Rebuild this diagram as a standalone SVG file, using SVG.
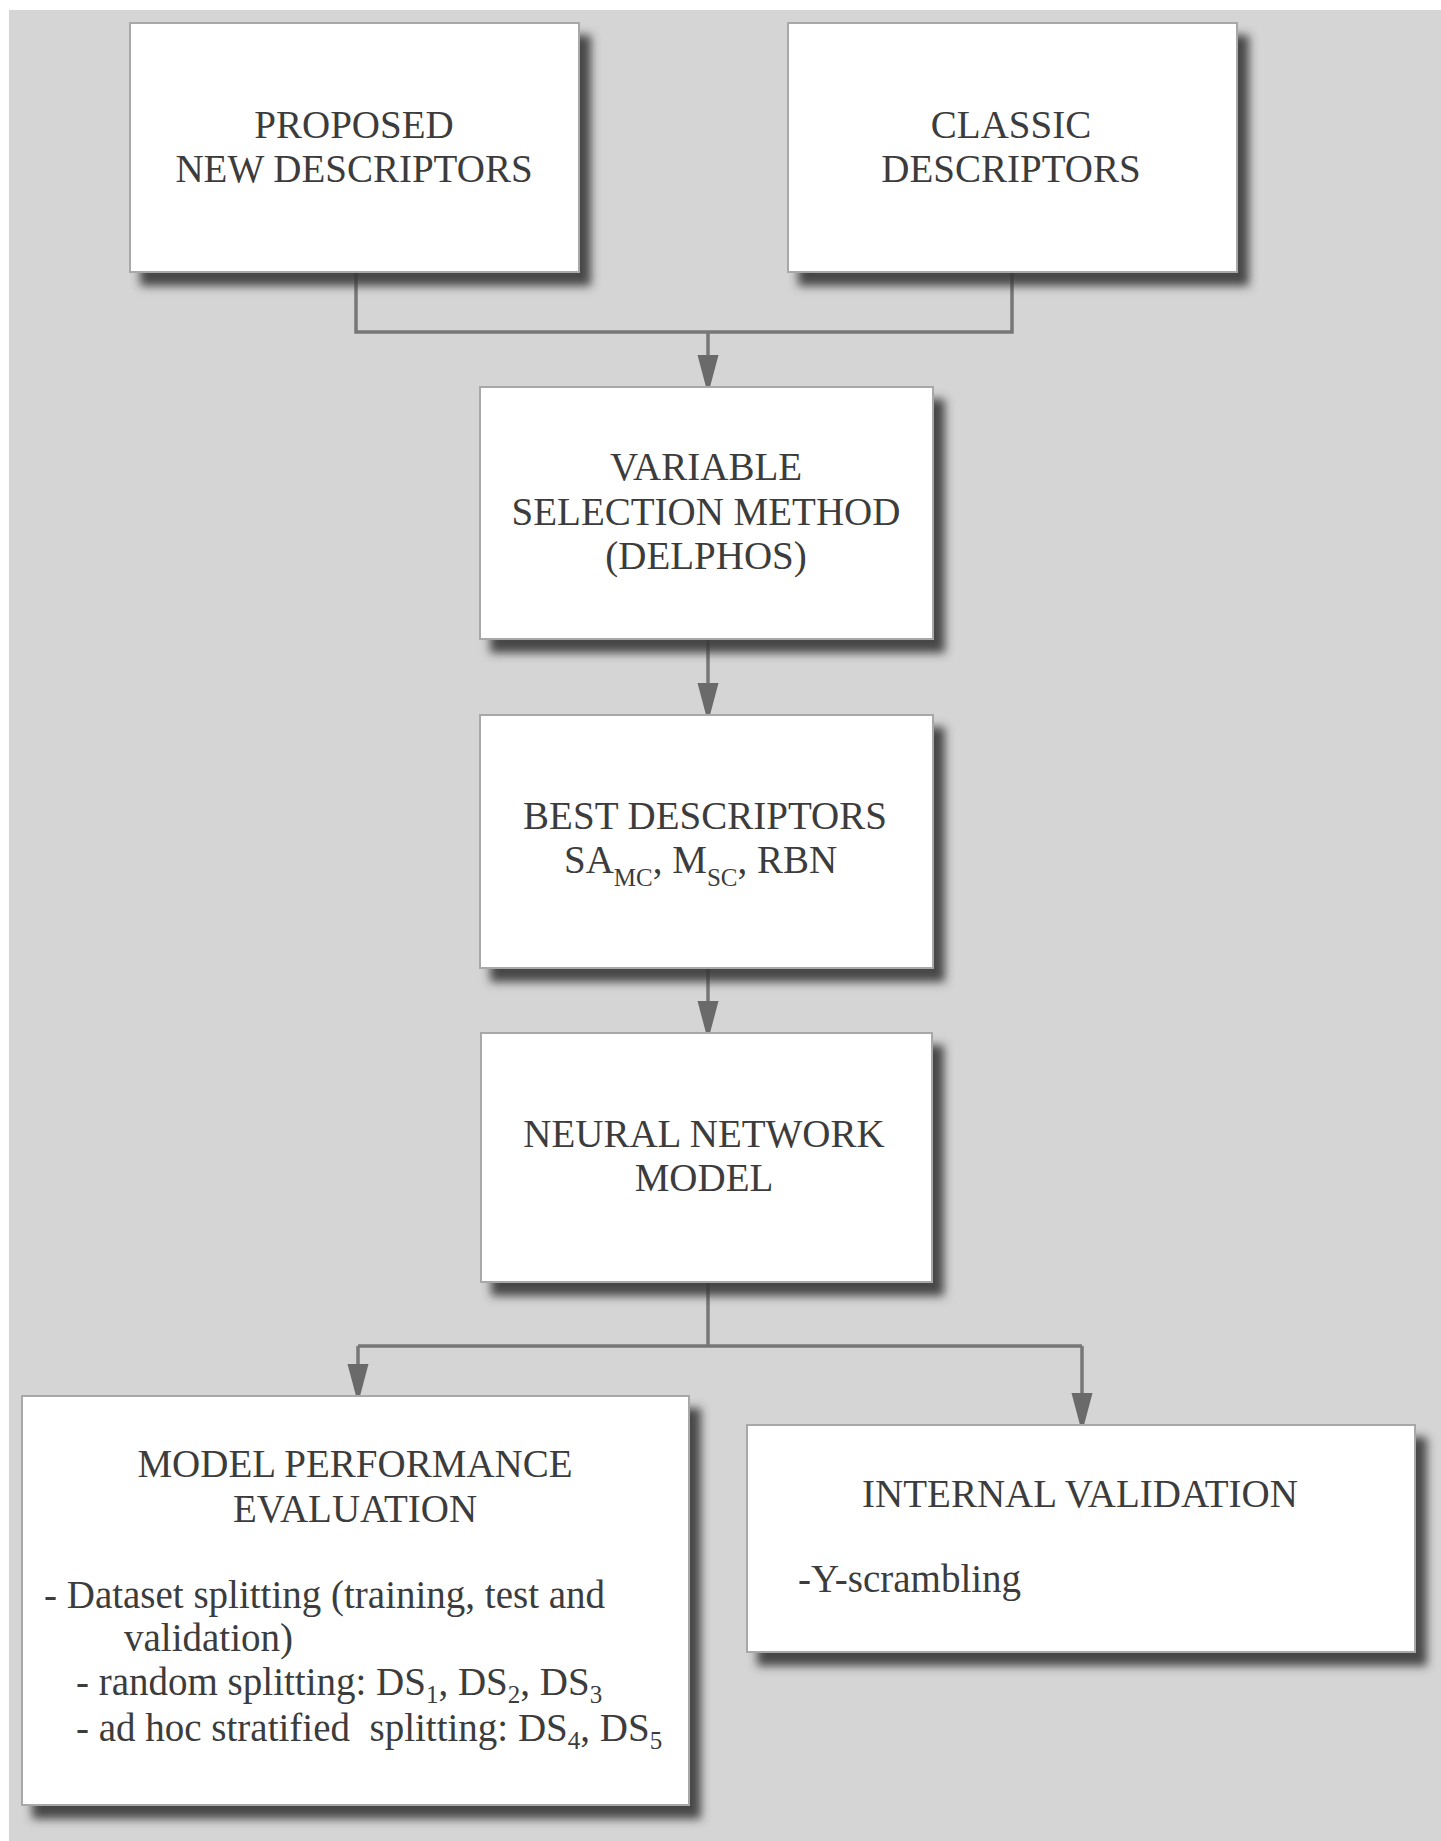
<svg xmlns="http://www.w3.org/2000/svg" width="1441" height="1841" viewBox="0 0 1441 1841">
<defs>
<filter id="sh" x="-10%" y="-10%" width="130%" height="130%">
<feGaussianBlur in="SourceAlpha" stdDeviation="5"/>
<feOffset dx="11" dy="13" result="b"/>
<feFlood flood-color="#383838" flood-opacity="0.9"/>
<feComposite in2="b" operator="in" result="s"/>
<feMerge><feMergeNode in="s"/><feMergeNode in="SourceGraphic"/></feMerge>
</filter>
<marker id="ah" markerUnits="userSpaceOnUse" markerWidth="34" markerHeight="24" viewBox="0 0 34 24" refX="32" refY="12" orient="auto">
<path d="M0,1.5 L32,10 L32,14 L0,22.5 Z" fill="#6a6a6a"/>
</marker>
</defs>
<style>
.box{fill:#ffffff;stroke:#a8a8a8;stroke-width:2;filter:url(#sh)}
.t{font-family:"Liberation Serif","Times New Roman",serif;font-size:39px;fill:#3c3c3c}
.c{text-anchor:middle}
.sub{font-size:25px}
.ln{fill:none;stroke:#777777;stroke-width:3.5}
.ar{fill:none;stroke:#777777;stroke-width:3.5;marker-end:url(#ah)}
</style>
<rect x="0" y="0" width="1441" height="1841" fill="#ffffff"/>
<rect x="9" y="10" width="1432" height="1831" fill="#d5d5d5"/>

<g id="connectors">
<path class="ln" d="M356,272 V332 H1012 V272"/>
<path class="ar" d="M708,332 V387"/>
<path class="ar" d="M708,639 V715"/>
<path class="ar" d="M708,968 V1033"/>
<path class="ln" d="M708,1282 V1346 M358,1346 H1082"/>
<path class="ar" d="M358,1346 V1396"/>
<path class="ar" d="M1082,1346 V1425"/>
</g>

<g id="proposed">
<rect class="box" x="130" y="23" width="449" height="249"/>
<text class="t c" x="354" y="138">PROPOSED</text>
<text class="t c" x="354" y="182">NEW DESCRIPTORS</text>
</g>

<g id="classic">
<rect class="box" x="788" y="23" width="449" height="249"/>
<text class="t c" x="1011" y="138">CLASSIC</text>
<text class="t c" x="1011" y="182">DESCRIPTORS</text>
</g>

<g id="variable">
<rect class="box" x="480" y="387" width="453" height="252"/>
<text class="t c" x="706" y="480">VARIABLE</text>
<text class="t c" x="706" y="525">SELECTION METHOD</text>
<text class="t c" x="706" y="569">(DELPHOS)</text>
</g>

<g id="best">
<rect class="box" x="480" y="715" width="453" height="253"/>
<text class="t c" x="705" y="829">BEST DESCRIPTORS</text>
<text class="t" x="564" y="873">SA<tspan class="sub" dy="13">MC</tspan><tspan dy="-13">, M</tspan><tspan class="sub" dy="13">SC</tspan><tspan dy="-13">, RBN</tspan></text>
</g>

<g id="neural">
<rect class="box" x="481" y="1033" width="451" height="249"/>
<text class="t c" x="704" y="1147">NEURAL NETWORK</text>
<text class="t c" x="704" y="1191">MODEL</text>
</g>

<g id="performance">
<rect class="box" x="22" y="1396" width="667" height="409"/>
<text class="t c" x="355" y="1477">MODEL PERFORMANCE</text>
<text class="t c" x="355" y="1522">EVALUATION</text>
<text class="t" x="44" y="1608">- Dataset splitting (training, test and</text>
<text class="t" x="124" y="1651">validation)</text>
<text class="t" x="76" y="1695">- random splitting: DS<tspan class="sub" dy="8">1</tspan><tspan dy="-8">, DS</tspan><tspan class="sub" dy="8">2</tspan><tspan dy="-8">, DS</tspan><tspan class="sub" dy="8">3</tspan></text>
<text class="t" x="76" y="1741" xml:space="preserve">- ad hoc stratified  splitting: DS<tspan class="sub" dy="8">4</tspan><tspan dy="-8">, DS</tspan><tspan class="sub" dy="8">5</tspan></text>
</g>

<g id="internal">
<rect class="box" x="747" y="1425" width="668" height="227"/>
<text class="t c" x="1080" y="1507">INTERNAL VALIDATION</text>
<text class="t" x="798" y="1592">-Y-scrambling</text>
</g>
</svg>
